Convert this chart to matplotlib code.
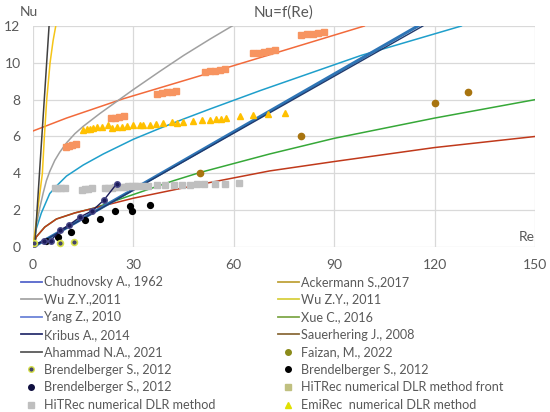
import matplotlib.pyplot as plt
from matplotlib.lines import Line2D

plt.rcParams['font.family'] = ['Lato', 'DejaVu Sans']

# curves (Re, Nu)
chud_re = [0, 115]
chud_nu = [0, 12]
kribus_re = [0, 116.5]
kribus_nu = [0, 12]
ack_re = [0, 10, 27, 50, 70, 99]
ack_nu = [6.3, 7.0, 8.05, 9.3, 10.4, 12]
wu_grey_re = [0.3, 1, 2, 3, 4, 5, 6.5, 8, 10, 12.5, 15, 20, 25, 30, 38, 45, 53, 59.5]
wu_grey_nu = [0.3, 1.2, 2.1, 2.9, 3.6, 4.1, 4.7, 5.15, 5.65, 6.15, 6.55, 7.25, 7.9, 8.55, 9.55, 10.4, 11.3, 12]
wu_yel_re = [0, 0.7, 1.4, 2.1, 2.8, 3.4, 4.1, 5.1, 6.0, 6.8]
wu_yel_nu = [0, 1.0, 2.0, 3.0, 4.0, 6.0, 8.0, 10.0, 11.2, 12]
yang_re = [0.3, 1, 2.5, 5, 7.5, 10, 15, 21, 30, 38, 45, 53, 68, 83, 98, 113, 128]
yang_nu = [0.3, 1.0, 1.85, 2.9, 3.4, 3.85, 4.45, 5.05, 5.85, 6.45, 6.95, 7.5, 8.5, 9.45, 10.4, 11.2, 12]
xue_re = [0, 1, 3.5, 7, 12.5, 18, 30, 42, 50, 70.7, 90, 120, 150]
xue_nu = [0, 0.55, 1.08, 1.52, 1.85, 2.1, 2.85, 3.6, 4.05, 5.05, 5.9, 7.0, 8.0]
sauer_re = [0, 1, 3.5, 7, 12.5, 18, 30, 50, 70.7, 90, 120, 150]
sauer_nu = [0, 0.55, 1.08, 1.52, 1.85, 2.1, 2.65, 3.4, 4.13, 4.64, 5.4, 6.0]
aham_re = [0.5, 4.8]
aham_nu = [0, 12]

# measured points
faizan_re = [50, 80, 120, 130]
faizan_nu = [4.0, 6.0, 7.8, 8.4]
brend1_re = [0.3, 8, 12.3]
brend1_nu = [0.2, 0.2, 0.25]
brend2_re = [4.0, 7.6, 11.5, 15.5, 20, 24.6, 29, 29.6, 35]
brend2_nu = [0.35, 0.53, 0.83, 1.47, 1.54, 1.95, 2.23, 1.97, 2.28]
brend3_re = [0.2, 3.2, 5.3, 8.1, 10.8, 14.1, 17.7, 21.2, 25]
brend3_nu = [0.15, 0.3, 0.34, 0.9, 1.2, 1.63, 1.97, 2.55, 3.43]
hit_front_re = [9.8, 10.8, 11.8, 12.8,
                23.3, 24.5, 25.8, 27.2,
                37.2, 38.6, 40, 41.4, 42.6,
                51.3, 52.8, 54.3, 55.8, 57.3,
                65.8, 67.4, 69, 70.6, 72.3,
                80.2, 81.9, 83.6, 85.3, 87.1]
hit_front_nu = [5.45, 5.5, 5.55, 5.6,
                6.98, 7.03, 7.08, 7.13,
                8.32, 8.36, 8.4, 8.44, 8.48,
                9.5, 9.54, 9.58, 9.62, 9.66,
                10.52, 10.56, 10.6, 10.64, 10.68,
                11.5, 11.54, 11.58, 11.62, 11.66]
hit_re = [6.5, 7.5, 8.5, 9.5, 14.5, 15.5, 16.5, 17.5, 21.5, 22.5, 23.5, 24.5, 25.5, 26.5,
          27.5, 28.5, 29.5, 30.5, 31.5, 33, 34.5, 37, 39.5, 42, 44.5, 47, 49, 51, 54.3, 57.5, 61.5]
hit_nu = [3.18, 3.19, 3.2, 3.21, 3.12, 3.15, 3.17, 3.2, 3.18, 3.2, 3.22, 3.24, 3.26, 3.27,
          3.28, 3.29, 3.3, 3.3, 3.31, 3.32, 3.33, 3.35, 3.36, 3.36, 3.38, 3.38, 3.4, 3.4, 3.42, 3.43, 3.45]
emi_re = [15.0, 16.0, 17.0, 18.0, 19.0, 20.5, 22.5, 23.5, 25.0, 26.5, 28.0, 29.9, 31.9, 32.9, 34.9,
          36.9, 38.9, 41.4, 42.9, 44.9, 47.9, 50.4, 52.8, 54.8, 56.3, 57.8, 61.8, 65.8, 70.2, 75.2]
emi_nu = [6.36, 6.41, 6.41, 6.45, 6.49, 6.54, 6.63, 6.45, 6.49, 6.52, 6.56, 6.6, 6.63, 6.63, 6.63,
          6.67, 6.72, 6.78, 6.72, 6.81, 6.85, 6.88, 6.9, 6.94, 6.96, 7.0, 7.12, 7.17, 7.21, 7.3]

fig = plt.figure(figsize=(5.5, 4.12), dpi=100)
ax = fig.add_axes([0.06, 0.4005, 0.9127, 0.5364])

lw = 1.1
ax.plot(xue_re, xue_nu, color='#36A838', lw=lw)
ax.plot(sauer_re, sauer_nu, color='#C0391B', lw=lw)
ax.plot(yang_re, yang_nu, color='#1F9FCB', lw=lw)
ax.plot(ack_re, ack_nu, color='#F26A3B', lw=lw)
ax.plot(wu_grey_re, wu_grey_nu, color='#A0A0A0', lw=lw)
ax.plot(chud_re, chud_nu, color='#2E75B6', lw=2.2)
ax.plot(kribus_re, kribus_nu, color='#1F3A6E', lw=1.0)
ax.plot(wu_yel_re, wu_yel_nu, color='#F5C518', lw=lw)
ax.plot(aham_re, aham_nu, color='#404040', lw=lw)

ax.plot(hit_re, hit_nu, ls='none', marker='s', ms=3.8, color='#BFBFBF')
ax.plot(hit_front_re, hit_front_nu, ls='none', marker='s', ms=4.6, color='#F79460')
ax.plot(emi_re, emi_nu, ls='none', marker='^', ms=4.5, color='#FFC000')
ax.plot(faizan_re, faizan_nu, ls='none', marker='o', ms=4.5, color='#A8740F')
ax.plot(brend2_re, brend2_nu, ls='none', marker='o', ms=4.2, color='black')
ax.plot(brend3_re, brend3_nu, ls='-', lw=1.0, marker='o', ms=4.0, color='#1C1C5A', mec='#4A4A8A')
ax.plot(brend1_re, brend1_nu, ls='none', marker='o', ms=4.2, color='#44446A', mec='#D6E04A', mew=1.2)

ax.set_xlim(0, 150)
ax.set_ylim(0, 12)
ax.set_xticks([0, 30, 60, 90, 120, 150])
ax.set_yticks([0, 2, 4, 6, 8, 10, 12])
ax.grid(True, color='#D9D9D9', lw=0.9)
ax.set_axisbelow(True)
for s in ax.spines.values():
    s.set_visible(False)
ax.tick_params(length=0, labelsize=10, labelcolor='#595959')
ax.tick_params(axis='y', pad=9)
ax.tick_params(axis='x', pad=9)

fig.text(284 / 550, 1 - 13 / 412, 'Nu=f(Re)', ha='center', va='center', fontsize=11, color='#595959')
fig.text(29 / 550, 1 - 12 / 412, 'Nu', ha='center', va='center', fontsize=10, color='#595959')
fig.text(527 / 550, 1 - 237 / 412, 'Re', ha='center', va='center', fontsize=10, color='#595959')

def ln(c):
    return Line2D([], [], color=c, lw=1.3)

def mk(m, c, ec=None):
    return Line2D([], [], ls='none', marker=m, ms=4, color=c, mec=ec or c)

left = [(ln('#5566CC'), 'Chudnovsky A., 1962'),
        (ln('#A6A6A6'), 'Wu Z.Y.,2011'),
        (ln('#6C84D8'), 'Yang Z., 2010'),
        (ln('#2B3170'), 'Kribus A., 2014'),
        (ln('#595959'), 'Ahammad N.A., 2021'),
        (mk('o', '#44446A', '#D6E04A'), 'Brendelberger S., 2012'),
        (mk('o', '#101040'), 'Brendelberger S., 2012'),
        (mk('s', '#BFBFBF'), 'HiTRec numerical DLR method')]
right = [(ln('#BFA23A'), 'Ackermann S.,2017'),
         (ln('#D8D040'), 'Wu Z.Y., 2011'),
         (ln('#7FA84A'), 'Xue C., 2016'),
         (ln('#8B6B3A'), 'Sauerhering J., 2008'),
         (mk('o', '#8B8B1A'), 'Faizan, M., 2022'),
         (mk('o', 'black'), 'Brendelberger S., 2012'),
         (mk('s', '#C0C080'), 'HiTRec numerical DLR method front'),
         (mk('^', '#E0E000'), 'EmiRec  numerical DLR method')]

for items, x0 in ((left, 21), (right, 278)):
    fig.legend([h for h, _ in items], [t for _, t in items], loc='upper left',
               bbox_to_anchor=(x0 / 550, 1 - 276 / 412), frameon=False, fontsize=9.1,
               labelcolor='#595959', handlelength=1.65, handletextpad=0.15,
               labelspacing=0.44, borderpad=0, borderaxespad=0)

fig.savefig('out.png', dpi=100)
